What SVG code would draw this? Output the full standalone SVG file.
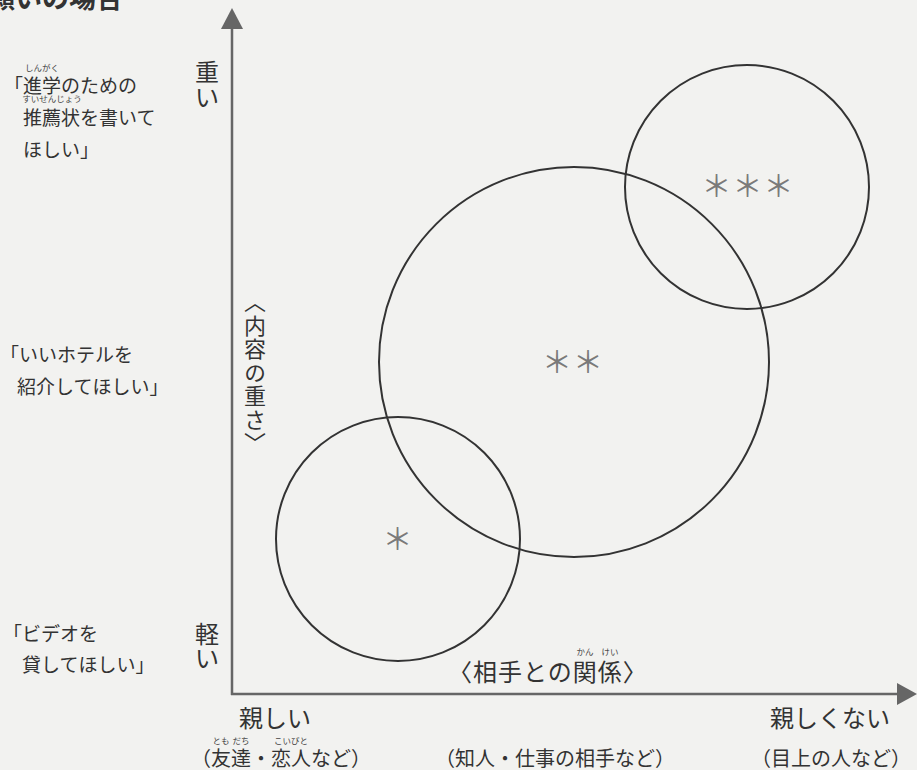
<svg xmlns="http://www.w3.org/2000/svg" width="917" height="770" viewBox="0 0 917 770">
<style>
text { font-family: "Noto Sans CJK JP", "Noto Sans", sans-serif; fill: #333; }
.lbl { font-size: 19px; }
.ax { font-size: 24px; }
.rb { font-size: 8.5px; text-anchor: middle; fill: #444; }
.par { font-size: 20px; text-anchor: middle; }
.mid { text-anchor: middle; }
.ast { font-size: 30px; fill: #7a7a7a; text-anchor: middle; letter-spacing: 1px; }
.circ { fill: none; stroke: #333; stroke-width: 2; }
.axis { stroke: #666; stroke-width: 2.5; fill: none; }
.head { fill: #666; stroke: none; }
</style>
<rect x="0" y="0" width="917" height="770" fill="#f2f2f0"/>

<text x="-12" y="8" style="font-size:27px;font-weight:bold">願いの場合</text>

<g id="axes">
  <line class="axis" x1="232" y1="26" x2="232" y2="695"/>
  <line class="axis" x1="231" y1="694" x2="899" y2="694"/>
  <polygon class="head" points="232,8 221,29 243,29"/>
  <polygon class="head" points="917,694 897,683 897,705"/>
</g>

<g id="circles">
  <circle class="circ" cx="747" cy="187" r="122"/>
  <circle class="circ" cx="574" cy="362" r="195"/>
  <circle class="circ" cx="398" cy="539" r="122"/>
</g>

<g id="marks">
  <text class="ast" x="748" y="197">＊＊＊</text>
  <text class="ast" x="573" y="373">＊＊</text>
  <text class="ast" x="398" y="550">＊</text>
</g>

<g id="y-axis-labels">
  <text class="ax mid" x="207" y="81">重</text>
  <text class="ax mid" x="207" y="106">い</text>
  <text class="ax mid" x="207" y="643">軽</text>
  <text class="ax mid" x="207" y="667">い</text>
  <text x="255" y="291" style="font-size:22px;writing-mode:vertical-rl;letter-spacing:1.5px">〈内容の重さ〉</text>
</g>

<g id="label-heavy">
  <text class="rb" x="42" y="71">しんがく</text>
  <text class="lbl" x="4" y="93">「進学のための</text>
  <text class="rb" x="52" y="102">すいせんじょう</text>
  <text class="lbl" x="23" y="125">推薦状を書いて</text>
  <text class="lbl" x="23" y="157">ほしい」</text>
</g>

<g id="label-middle">
  <text class="lbl" x="0" y="362">「いいホテルを</text>
  <text class="lbl" x="17" y="394">紹介してほしい」</text>
</g>

<g id="label-light">
  <text class="lbl" x="3" y="641">「ビデオを</text>
  <text class="lbl" x="22" y="672">貸してほしい」</text>
</g>

<g id="x-axis-labels">
  <text class="rb" x="585" y="655">かん</text>
  <text class="rb" x="610" y="655">けい</text>
  <text x="448" y="681" style="font-size:24px;letter-spacing:1px">〈相手との関係〉</text>
  <text class="ax" x="239" y="727">親しい</text>
  <text class="ax" x="770" y="727">親しくない</text>
  <text class="rb" x="221" y="744">とも</text>
  <text class="rb" x="241" y="744">だち</text>
  <text class="rb" x="291" y="744">こいびと</text>
  <text class="par" x="281" y="766">（友達・恋人など）</text>
  <text class="par" x="555" y="766">（知人・仕事の相手など）</text>
  <text class="par" x="831" y="766">（目上の人など）</text>
</g>
</svg>
